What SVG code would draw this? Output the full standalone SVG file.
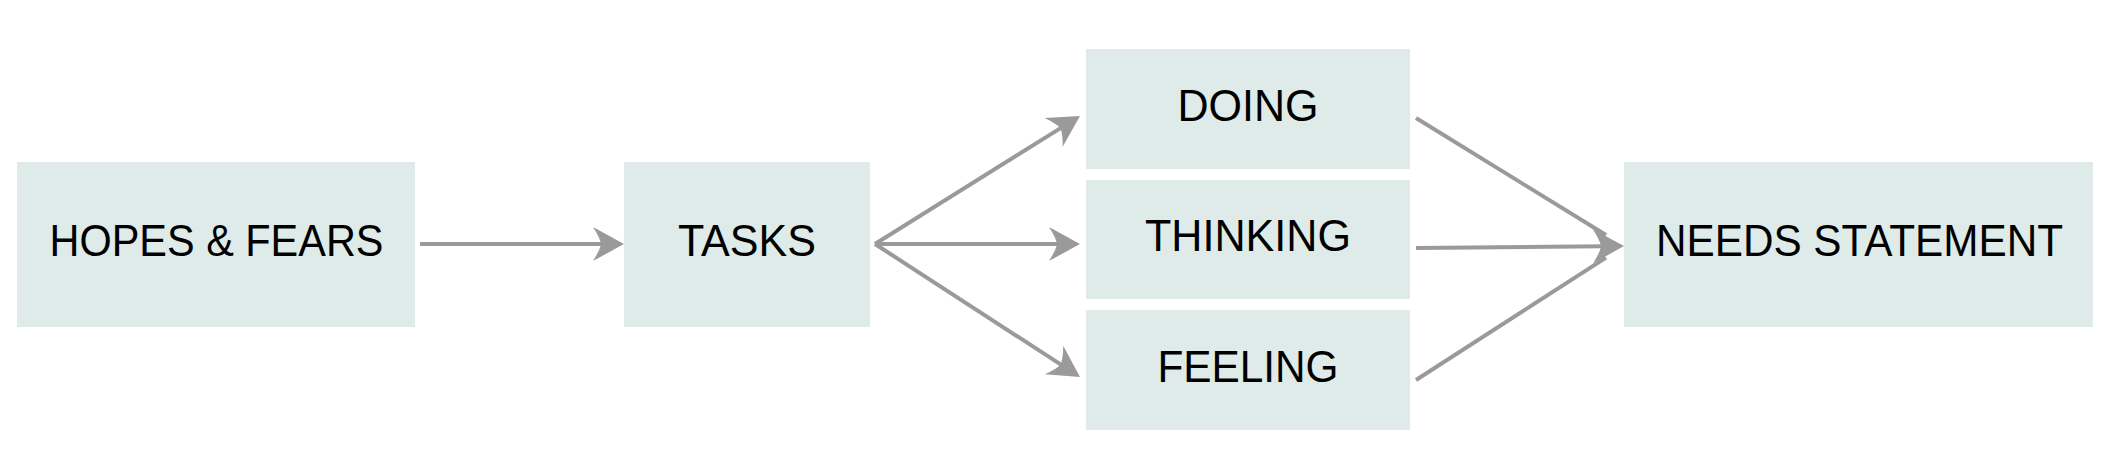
<svg xmlns="http://www.w3.org/2000/svg" width="2120" height="472" viewBox="0 0 2120 472">
  <style>
    .box { fill: #deebe8; }
    .lbl { font-family: "Liberation Sans", Arial, Helvetica, sans-serif; font-size: 45px; fill: #000; text-anchor: middle; }
    .conn { stroke: #9a9a9a; stroke-width: 4; fill: none; }
  </style>
  <defs>
    <marker id="stealth" markerUnits="userSpaceOnUse" viewBox="-12 -18 34 36" markerWidth="34" markerHeight="36" refX="0" refY="0" orient="auto">
      <path d="M20,0 L-11,-17 Q-4,-6 -3,0 Q-4,6 -11,17 Z" fill="#9a9a9a"/>
    </marker>
  </defs>
  <rect width="2120" height="472" fill="#ffffff"/>

  <g id="hopes-fears">
    <rect class="box" x="17" y="162" width="398" height="165"/>
    <text class="lbl" x="216.5" y="256" textLength="334" lengthAdjust="spacingAndGlyphs">HOPES &amp; FEARS</text>
  </g>
  <g id="tasks">
    <rect class="box" x="624" y="162" width="246" height="165"/>
    <text class="lbl" x="747" y="256" textLength="138" lengthAdjust="spacingAndGlyphs">TASKS</text>
  </g>
  <g id="doing">
    <rect class="box" x="1086" y="49" width="324" height="120"/>
    <text class="lbl" x="1248" y="120.5" textLength="141" lengthAdjust="spacingAndGlyphs">DOING</text>
  </g>
  <g id="thinking">
    <rect class="box" x="1086" y="180" width="324" height="119"/>
    <text class="lbl" x="1248" y="251" textLength="206" lengthAdjust="spacingAndGlyphs">THINKING</text>
  </g>
  <g id="feeling">
    <rect class="box" x="1086" y="310" width="324" height="120"/>
    <text class="lbl" x="1248" y="381.5" textLength="181" lengthAdjust="spacingAndGlyphs">FEELING</text>
  </g>
  <g id="needs-statement">
    <rect class="box" x="1624" y="162" width="469" height="165"/>
    <text class="lbl" x="1859.5" y="255.5" textLength="407" lengthAdjust="spacingAndGlyphs">NEEDS STATEMENT</text>
  </g>

  <g id="connectors">
    <line class="conn" x1="420" y1="244" x2="604" y2="244" marker-end="url(#stealth)"/>
    <line class="conn" x1="875" y1="244" x2="1063" y2="126.6" marker-end="url(#stealth)"/>
    <line class="conn" x1="875" y1="244" x2="1060" y2="244" marker-end="url(#stealth)"/>
    <line class="conn" x1="875" y1="244" x2="1063.2" y2="366.1" marker-end="url(#stealth)"/>
    <line class="conn" x1="1416" y1="118" x2="1606" y2="235"/>
    <line class="conn" x1="1416" y1="380" x2="1606" y2="257.6"/>
    <line class="conn" x1="1416" y1="248" x2="1604" y2="246.2" marker-end="url(#stealth)"/>
  </g>
</svg>
